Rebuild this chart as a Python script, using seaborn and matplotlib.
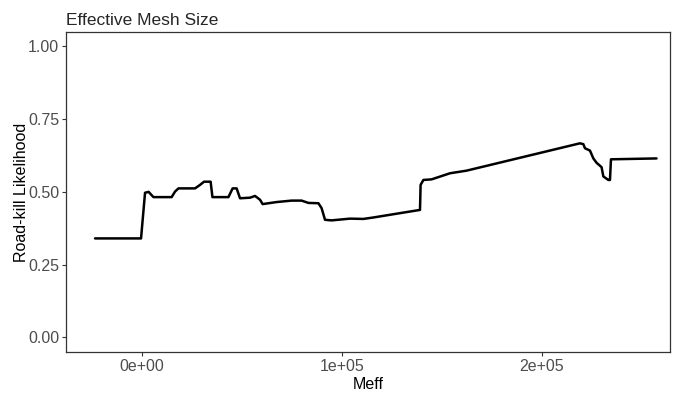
import numpy as np
import pandas as pd
import matplotlib
matplotlib.use("Agg")
import matplotlib.pyplot as plt
import seaborn as sns

# Partial dependence of road-kill likelihood on effective mesh size
meff = [-23500, -500, 1500, 3300, 5700, 14800, 16500, 18200, 26500, 29000,
        31000, 34300, 35200, 43200, 45300, 47300, 49000, 54000, 56500, 59000,
        60300, 67300, 74800, 79800, 83200, 88200, 89800, 91500, 94800, 104000,
        110700, 115700, 139000, 139300, 140700, 144800, 154000, 162300, 219000,
        220700, 221500, 224000, 225700, 227300, 229800, 230700, 233200, 234000,
        234500, 257300]
likelihood = [0.340, 0.340, 0.497, 0.500, 0.482, 0.482, 0.501, 0.512, 0.512, 0.524,
              0.535, 0.535, 0.482, 0.482, 0.512, 0.512, 0.478, 0.480, 0.486, 0.473,
              0.458, 0.465, 0.470, 0.470, 0.462, 0.461, 0.444, 0.404, 0.402, 0.408,
              0.407, 0.412, 0.438, 0.524, 0.541, 0.543, 0.564, 0.573, 0.667,
              0.664, 0.650, 0.642, 0.615, 0.600, 0.585, 0.553, 0.541, 0.541,
              0.612, 0.615]

df = pd.DataFrame({"Meff": meff, "Likelihood": likelihood})

sns.set_theme(style="white")
plt.rcParams["font.family"] = ["Liberation Sans", "DejaVu Sans"]

fig = plt.figure(figsize=(6.74, 3.94), dpi=100)
ax = fig.add_axes([0.098, 0.107, 0.896, 0.812])

sns.lineplot(data=df, x="Meff", y="Likelihood", color="black", linewidth=1.8,
             ax=ax, sort=False)

ax.set_xlim(-38000, 264000)
ax.set_ylim(-0.05, 1.05)
ax.set_xticks([0, 100000, 200000])
ax.set_xticklabels(["0e+00", "1e+05", "2e+05"])
ax.set_yticks([0, 0.25, 0.5, 0.75, 1.0])
ax.set_yticklabels(["0.00", "0.25", "0.50", "0.75", "1.00"])

ax.tick_params(axis="both", which="major", length=3, width=0.8, color="#333333",
               labelsize=11.5, labelcolor="#4D4D4D", pad=2, direction="out",
               bottom=True, left=True)
for spine in ax.spines.values():
    spine.set_visible(True)
    spine.set_color("#333333")
    spine.set_linewidth(0.9)

ax.set_xlabel("Meff", fontsize=11.5, color="black", labelpad=2.5)
ax.set_ylabel("Road-kill Likelihood", fontsize=11.5, color="black", labelpad=-1)
ax.set_title("Effective Mesh Size", fontsize=12.5, loc="left", pad=5)

fig.savefig("out.png", dpi=100)
